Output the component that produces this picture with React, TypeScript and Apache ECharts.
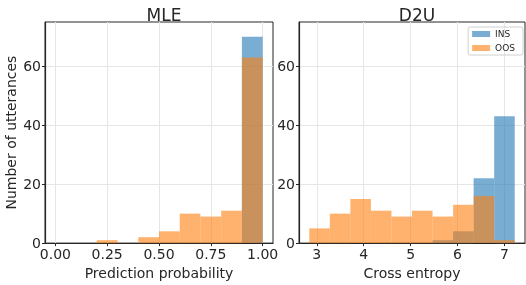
import React, { useEffect, useRef } from "react";
import * as echarts from "echarts";

// MLE histogram (prediction probability), bin edges 0..1 step 0.1
const MLE_EDGES = [0, 0.1, 0.2, 0.3, 0.4, 0.5, 0.6, 0.7, 0.8, 0.9, 1.0];
const MLE_INS = [0, 0, 0, 0, 0, 0, 0, 0, 0, 70];
const MLE_OOS = [0, 0, 1, 0, 2, 4, 10, 9, 11, 63];

// D2U histogram (cross entropy)
const D2U_EDGES = [2.84, 3.278, 3.716, 4.154, 4.592, 5.03, 5.468, 5.906, 6.344, 6.782, 7.22];
const D2U_INS = [0, 0, 0, 0, 0, 0, 1, 4, 22, 43];
const D2U_OOS = [5, 10, 15, 11, 9, 11, 9, 13, 16, 1];

const MLE_TICKS = [0, 0.25, 0.5, 0.75, 1.0];
const D2U_TICKS = [3, 4, 5, 6, 7];
const Y_TICKS = [0, 20, 40, 60];

const BLUE = "rgba(31,119,180,0.6)";
const ORANGE = "rgba(255,127,14,0.6)";
const FONT = "DejaVu Sans";

function toBins(edges: number[], counts: number[]) {
  return counts.map((c, i) => [edges[i], edges[i + 1], c]);
}

function renderBar(params: any, api: any) {
  const lo = api.value(0);
  const hi = api.value(1);
  const c = api.value(2);
  if (!c) return null;
  const p1 = api.coord([lo, c]);
  const p2 = api.coord([hi, 0]);
  return {
    type: "rect",
    shape: { x: p1[0], y: p1[1], width: p2[0] - p1[0], height: p2[1] - p1[1] },
    style: { fill: api.visual("color") },
  };
}

export default function App() {
  const ref = useRef<HTMLDivElement>(null);
  useEffect(() => {
    if (!ref.current) return;
    const chart = echarts.init(ref.current, null, { renderer: "svg" });
    const axisLabel = { fontFamily: FONT, fontSize: 14, color: "#262626", margin: 4 };
    const splitLine = { show: true, lineStyle: { color: "#e6e6e6", width: 1 } };
    const xAxisCommon = (min: number, max: number, ticks: number[], fmt: (v: number) => string, name: string) => ({
      type: "value",
      min,
      max,
      axisLine: { show: true, onZero: false, lineStyle: { color: "#262626", width: 1.2 } },
      axisTick: { show: true, length: 3, customValues: ticks, lineStyle: { color: "#262626" } },
      axisLabel: { ...axisLabel, customValues: ticks, formatter: fmt },
      splitLine,
      name,
      nameLocation: "middle",
      nameGap: 22,
      nameTextStyle: { fontFamily: FONT, fontSize: 14, color: "#262626" },
    });
    const yAxisCommon = (name: string) => ({
      type: "value",
      min: 0,
      max: 75,
      axisLine: { show: true, onZero: false, lineStyle: { color: "#262626", width: 1.2 } },
      axisTick: { show: true, length: 3, customValues: Y_TICKS, lineStyle: { color: "#262626" } },
      axisLabel: { ...axisLabel, customValues: Y_TICKS },
      splitLine,
      name,
      nameLocation: "middle",
      nameGap: 27,
      nameTextStyle: { fontFamily: FONT, fontSize: 14, color: "#262626" },
    });
    const series = (name: string, edges: number[], counts: number[], color: string, idx: number) => ({
      type: "custom",
      name,
      xAxisIndex: idx,
      yAxisIndex: idx,
      renderItem: renderBar,
      itemStyle: { color },
      encode: { x: [0, 1], y: 2 },
      data: toBins(edges, counts),
    });
    chart.setOption({
      animation: false,
      title: [
        { text: "MLE", left: 159, top: 1, textAlign: "center", textStyle: { fontFamily: FONT, fontSize: 17, fontWeight: "normal", color: "#262626" } },
        { text: "D2U", left: 412, top: 1, textAlign: "center", textStyle: { fontFamily: FONT, fontSize: 17, fontWeight: "normal", color: "#262626" } },
      ],
      grid: [
        { left: 45, top: 22, width: 228, height: 225, show: true, borderColor: "#262626", borderWidth: 1, backgroundColor: "transparent" },
        { left: 299, top: 22, width: 226, height: 225, show: true, borderColor: "#262626", borderWidth: 1, backgroundColor: "transparent" },
      ],
      xAxis: [
        { ...xAxisCommon(-0.05, 1.05, MLE_TICKS, (v: number) => v.toFixed(2), "Prediction probability"), gridIndex: 0 },
        { ...xAxisCommon(2.621, 7.439, D2U_TICKS, (v: number) => String(v), "Cross entropy"), gridIndex: 1 },
      ],
      yAxis: [
        { ...yAxisCommon("Number of utterances"), gridIndex: 0 },
        { ...yAxisCommon(""), gridIndex: 1 },
      ],
      legend: {
        data: ["INS", "OOS"],
        orient: "vertical",
        right: 3,
        top: 27,
        itemWidth: 18,
        itemHeight: 6,
        itemGap: 4,
        padding: [2, 8, 2, 4],
        borderColor: "#d0d0d0",
        borderWidth: 1,
        borderRadius: 2,
        icon: "rect",
        textStyle: { fontFamily: FONT, fontSize: 9, color: "#262626", lineHeight: 10 },
      },
      series: [
        series("INS", MLE_EDGES, MLE_INS, BLUE, 0),
        series("OOS", MLE_EDGES, MLE_OOS, ORANGE, 0),
        series("INS", D2U_EDGES, D2U_INS, BLUE, 1),
        series("OOS", D2U_EDGES, D2U_OOS, ORANGE, 1),
      ],
    });
    return () => chart.dispose();
  }, []);
  return <div ref={ref} style={{ position: "fixed", left: 0, top: 0, width: 526, height: 285 }} />;
}
